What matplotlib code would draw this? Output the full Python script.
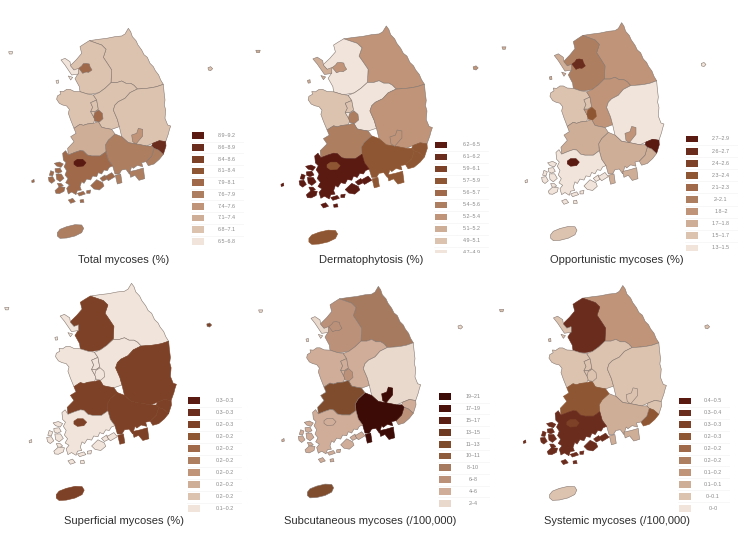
import matplotlib
matplotlib.use('Agg')
import matplotlib.pyplot as plt
from matplotlib.patches import Rectangle

W = 745
H = 536

# region outlines, in map units
gangwon = [(385,25),(392,35),(397,50),(408,62),(414,75),(425,90),(432,104),(442,112),(450,130),(460,140),(466,152),
           (476,165),(482,180),(490,193),(470,200),(455,203),(440,205),(412,207),(402,196),(392,190),(378,190),(365,183),
           (350,188),(333,188),(335,150),(322,130),(310,112),(318,88),(305,75),(285,68),(268,62),(295,58),(320,55),
           (345,50),(365,48),(375,42)]
gyeonggi = [(268,62),(285,68),(305,75),(318,88),(310,112),(322,130),(335,150),(333,188),(315,205),(297,218),(275,222),
            (262,222),(240,215),(238,200),(225,176),(235,160),(222,150),(210,138),(230,118),(245,100),(240,80),(252,72)]
seoul = [(236,145),(245,138),(250,131),(258,130),(268,132),(270,140),(276,150),(266,157),(258,156),(248,160),(242,152)]
incheon = [(183,120),(195,115),(210,125),(212,138),(222,150),(235,145),(235,162),(215,165),(205,150),(195,135)]
chungnam = [(172,228),(182,222),(180,214),(190,215),(200,208),(210,208),(222,214),(240,215),(262,222),(280,225),(290,240),(272,248),
            (278,262),(272,275),(285,298),(280,310),(262,312),(250,316),(240,313),(222,325),(216,310),(212,300),(205,280),(208,268),(200,258),
            (188,255),(178,250),(170,238)]
sejong = [(272,248),(290,240),(295,268),(285,275),(272,275),(278,262)]
daejeon = [(284,278),(296,270),(307,280),(309,296),(298,306),(285,304),(281,290)]
chungbuk = [(297,218),(315,205),(333,188),(350,188),(365,183),(378,190),(392,190),(402,196),(412,207),(390,218),(375,235),(355,245),(345,255),(340,270),(352,298),
            (358,320),(335,328),(318,325),(305,322),(295,305),(285,298),(272,275),(285,275),(295,268),(290,240),(280,225)]
gyeongbuk = [(412,207),(440,205),(455,203),(470,200),(490,193),(492,215),(495,240),(493,255),(497,270),(495,295),(503,315),(512,318),(508,330),(505,342),
             (497,365),(478,362),(458,370),(440,378),(425,375),(410,372),(385,368),(365,350),(358,320),(352,298),(340,270),
             (345,255),(355,245),(375,235),(390,218)]
daegu = [(395,345),(410,340),(415,325),(428,328),(428,348),(418,360),(408,372),(398,365)]
ulsan = [(458,370),(478,362),(497,365),(498,378),(490,403),(475,390),(462,385),(455,378)]
busan = [(462,385),(475,390),(490,403),(478,418),(462,432),(445,437),(438,425),(455,408)]
gyeongnam = [(345,342),(365,350),(385,368),(410,372),(425,375),(440,378),(455,378),(462,385),(455,408),(438,425),(425,428),(428,440),(412,436),
             (400,445),(395,440),(388,462),(378,448),(365,450),(358,462),(345,462),(338,438),(325,420),(318,395),(316,375),(325,360)]
jeonbuk = [(222,325),(240,313),(250,316),(262,312),(280,310),(295,305),(305,322),(318,325),(335,328),(345,342),(325,360),(316,375),
           (318,395),(300,408),(275,408),(262,405),(250,393),(240,392),(225,397),(205,405),(203,385),(222,365),(212,350),(228,340)]
jeonnam = [(188,400),(197,392),(205,405),(225,397),(240,392),(250,393),(262,405),(275,408),(300,408),(318,395),(325,420),(338,438),
           (328,442),(322,452),(312,450),(305,462),(295,458),(290,470),(278,468),(272,480),(260,477),(252,490),(245,485),(240,500),
           (244,510),(232,512),(228,524),(215,516),(205,522),(200,505),(208,495),(197,488),(204,476),(195,465),(200,452),(192,440),
           (198,428),(190,420)]
gwangju = [(222,425),(232,418),(248,418),(258,428),(250,438),(232,440),(222,433)]
jeju = [(172,638),(180,628),(200,620),(225,614),(245,615),(251,625),(245,638),(225,648),(200,654),(180,655),(172,648)]

# islands that take the colour of the region they belong to
jeonnam_isles = [
    [(163,430),(178,426),(190,432),(183,442),(170,438)],
    [(165,446),(180,444),(186,455),(175,460),(166,456)],
    [(152,452),(162,456),(158,468),(148,466)],
    [(168,462),(184,462),(192,475),(180,485),(170,478)],
    [(145,472),(158,470),(165,482),(155,490),(147,484)],
    [(172,490),(183,490),(190,497),(178,503)],
    [(165,512),(178,500),(195,502),(192,514),(178,521),(168,520)],
    [(272,497),(290,479),(308,488),(312,498),(298,510),(282,507)],
    [(300,475),(315,465),(320,478),(308,484)],
    [(205,540),(218,535),(226,545),(212,550)],
    [(240,540),(250,538),(252,547),(241,548)],
    [(232,520),(250,514),(256,522),(238,528)],
    [(260,512),(272,510),(270,520),(260,520)],
    [(315,470),(335,458),(345,470),(325,482)],
    [(95,482),(102,478),(103,486),(96,488)],
]
gyeongnam_isles = [
    [(346,466),(362,462),(366,488),(352,492)],
    [(388,455),(410,450),(430,444),(434,476),(417,481),(405,466),(392,472)],
]
incheon_isles = [
    [(26,95),(38,95),(36,102),(28,102)],
    [(168,182),(175,180),(176,189),(170,190)],
    [(205,168),(218,172),(212,180)],
]
ulleung = [(624,143),(632,140),(638,146),(632,152),(625,150)]

# drawing order: enclosed cities come after the provinces round them
region_shapes = [[gangwon], [gyeonggi], [incheon] + incheon_isles, [chungnam], [sejong], [chungbuk],
                 [gyeongbuk], [ulsan], [busan], [gyeongnam] + gyeongnam_isles, [jeonbuk], [jeonnam] + jeonnam_isles,
                 [jeju], [seoul], [daejeon], [daegu], [gwangju]]

# colour class of each region, same order as region_shapes (0 lightest, 9 darkest)
total_classes = [1, 1, 0, 1, 1, 1, 1, 8, 4, 4, 2, 5, 4, 5, 5, 3, 9]
derm_classes = [3, 0, 2, 1, 1, 0, 3, 6, 6, 6, 4, 9, 6, 3, 4, 3, 6]
opp_classes = [3, 4, 2, 1, 1, 3, 0, 9, 2, 2, 2, 0, 1, 8, 6, 3, 9]
sup_classes = [0, 7, 0, 0, 0, 0, 7, 7, 7, 7, 7, 0, 7, 7, 0, 7, 7]
sub_classes = [3, 2, 0, 1, 1, 1, 0, 1, 2, 9, 5, 1, 5, 2, 2, 9, 1]
sys_classes = [3, 8, 1, 1, 1, 1, 1, 1, 6, 2, 6, 8, 1, 8, 1, 1, 7]
panel_classes = [total_classes, derm_classes, opp_classes, sup_classes, sub_classes, sys_classes]

# legend labels, darkest class first
total_labels = ['8.9–9.2', '8.6–8.9', '8.4–8.6', '8.1–8.4', '7.9–8.1', '7.6–7.9', '7.4–7.6', '7.1–7.4', '6.8–7.1', '6.5–6.8']
derm_labels = ['6.2–6.5', '6.1–6.2', '5.9–6.1', '5.7–5.9', '5.6–5.7', '5.4–5.6', '5.2–5.4', '5.1–5.2', '4.9–5.1', '4.7–4.9']
opp_labels = ['2.7–2.9', '2.6–2.7', '2.4–2.6', '2.3–2.4', '2.1–2.3', '2–2.1', '1.8–2', '1.7–1.8', '1.5–1.7', '1.3–1.5']
sup_labels = ['0.3–0.3', '0.3–0.3', '0.2–0.3', '0.2–0.2', '0.2–0.2', '0.2–0.2', '0.2–0.2', '0.2–0.2', '0.2–0.2', '0.1–0.2']
sub_labels = ['19–21', '17–19', '15–17', '13–15', '11–13', '10–11', '8–10', '6–8', '4–6', '2–4']
sys_labels = ['0.4–0.5', '0.3–0.4', '0.3–0.3', '0.2–0.3', '0.2–0.2', '0.2–0.2', '0.1–0.2', '0.1–0.1', '0–0.1', '0–0']
panel_labels = [total_labels, derm_labels, opp_labels, sup_labels, sub_labels, sys_labels]

titles = ['Total mycoses (%)', 'Dermatophytosis (%)', 'Opportunistic mycoses (%)',
          'Superficial mycoses (%)', 'Subcutaneous mycoses (/100,000)', 'Systemic mycoses (/100,000)']

palette = ['#f0e4db', '#dcc3b0', '#cfae98', '#bf9479', '#ae7e60', '#a0694a',
           '#8e5632', '#7c4126', '#6a2c1d', '#5a1a12']
dark_palette = ['#e9d8cc', '#d0ad99', '#bc917a', '#a67a5f', '#8e5c3c', '#7f4c2d',
                '#6e3a22', '#5a1f12', '#4a100a', '#3d0b06']
panel_palette = [palette, palette, palette, palette, dark_palette, palette]

# panel placement, in pixels: left, top, x scale, y scale of the map
map_left = [0, 246.4, 493.3, -4.5, 250, 490.6]
map_top = [20, 17.3, 14, 274.7, 278, 277]
map_sx = [1.0, 1.09, 1.0, 1.06, 1.0, 1.03]
map_sy = [1.0, 1.04, 1.038, 1.034, 1.007, 1.023]
ulleung_shift = [0, 0, 0, -26, 0, 0]

# legend placement, in pixels
swatch_x = [192, 435, 686, 188, 439, 679]
label_x = [227, 472, 721, 225, 473, 713]
legend_first = [135.7, 145, 139, 400.7, 396.7, 401]
legend_step = [11.75, 12.0, 12.1, 12.0, 11.85, 11.9]
legend_clip = [None, 253, None, None, None, None]
title_x = [123.7, 370.7, 617, 123.7, 370, 617]
title_y = [260, 260, 260, 520.7, 520.7, 520.7]


def draw_map(fig, i):
    px_w = 250 * map_sx[i]
    px_h = 255 * map_sy[i]
    ax = fig.add_axes([map_left[i] / W, 1 - (map_top[i] + px_h) / H, px_w / W, px_h / H])
    ax.set_xlim(0, 750)
    ax.set_ylim(765, 0)
    ax.axis('off')
    colors = panel_palette[i]
    for shapes, cls in zip(region_shapes, panel_classes[i]):
        edge = colors[cls] if cls >= 6 else '#85766e'
        for shape in shapes:
            xs = [p[0] for p in shape]
            ys = [p[1] for p in shape]
            ax.fill(xs, ys, facecolor=colors[cls], edgecolor=edge, linewidth=0.4, joinstyle='round')
    # Ulleungdo goes with Gyeongbuk
    xs = [p[0] + ulleung_shift[i] for p in ulleung]
    ys = [p[1] for p in ulleung]
    ax.fill(xs, ys, facecolor=colors[panel_classes[i][6]], edgecolor='#85766e', linewidth=0.4)


def draw_legend(ax, i):
    colors = panel_palette[i]
    n = len(panel_labels[i])
    step = legend_step[i]
    clip = None
    if legend_clip[i] is not None:
        clip = Rectangle((0, 0), W, legend_clip[i], transform=ax.transData)
    for k, label in enumerate(panel_labels[i]):
        y = legend_first[i] + k * step
        patch = Rectangle((swatch_x[i], y - 3.4), 11.5, 6.8, facecolor=colors[9 - k], edgecolor='none')
        ax.add_patch(patch)
        t = ax.text(label_x[i], y, label, ha='center', va='center', fontsize=3.9, color='#8a8a8a')
        if clip is not None:
            patch.set_clip_path(clip)
            t.set_clip_path(clip)
            t.set_clip_on(True)
        if k < n - 1:
            ax.plot([swatch_x[i] - 1, label_x[i] + 16], [y + step / 2, y + step / 2],
                    color='#f1f1f1', linewidth=0.4)


def main():
    plt.rcParams['font.family'] = ['Liberation Sans', 'DejaVu Sans']
    fig = plt.figure(figsize=(W / 100, H / 100), dpi=100)
    for i in range(6):
        draw_map(fig, i)

    ax = fig.add_axes([0, 0, 1, 1])
    ax.set_xlim(0, W)
    ax.set_ylim(H, 0)
    ax.axis('off')
    ax.patch.set_alpha(0)
    for i in range(6):
        draw_legend(ax, i)
        ax.text(title_x[i], title_y[i], titles[i], ha='center', va='center', fontsize=8, color='#2e2e2e')

    plt.savefig('out.png', dpi=100)


if __name__ == '__main__':
    main()
